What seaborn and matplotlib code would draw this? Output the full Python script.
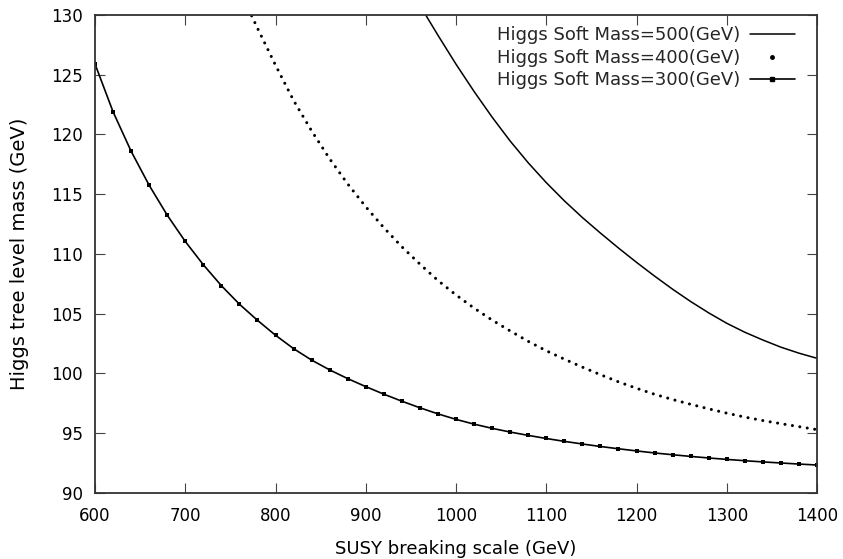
import numpy as np
import matplotlib
matplotlib.use("Agg")
import matplotlib.pyplot as plt
from matplotlib.lines import Line2D
import seaborn as sns

# SUSY breaking scale (GeV) and Higgs tree level mass (GeV)
x_300 = [600, 620, 640, 660, 680, 700, 720, 740, 760, 780, 800, 820, 840, 860, 880,
         900, 920, 940, 960, 980, 1000, 1020, 1040, 1060, 1080, 1100, 1120, 1140,
         1160, 1180, 1200, 1220, 1240, 1260, 1280, 1300, 1320, 1340, 1360, 1380, 1400]
m_300 = [125.9, 121.9, 118.6, 115.75, 113.25, 111.05, 109.1, 107.35, 105.8, 104.45,
         103.2, 102.08, 101.12, 100.3, 99.57, 98.9, 98.27, 97.68, 97.13, 96.62,
         96.16, 95.76, 95.41, 95.1, 94.82, 94.56, 94.32, 94.1, 93.89, 93.7,
         93.52, 93.35, 93.2, 93.06, 92.93, 92.81, 92.7, 92.6, 92.51, 92.42, 92.34]

x_400 = [770, 780, 800, 820, 840, 860, 880, 900, 920, 940, 960, 980, 1000, 1020,
         1040, 1060, 1080, 1100, 1120, 1140, 1160, 1180, 1200, 1220, 1240, 1260,
         1280, 1300, 1320, 1340, 1360, 1380, 1400]
m_400 = [130.5, 128.9, 125.8, 122.85, 120.3, 117.96, 115.86, 113.95, 112.2, 110.6,
         109.15, 107.78, 106.57, 105.47, 104.47, 103.56, 102.69, 101.9, 101.2,
         100.53, 99.9, 99.3, 98.76, 98.26, 97.82, 97.42, 97.04, 96.68, 96.35,
         96.06, 95.8, 95.55, 95.3]

x_500 = [960, 980, 1000, 1020, 1040, 1060, 1080, 1100, 1120, 1140, 1160, 1180,
         1200, 1220, 1240, 1260, 1280, 1300, 1320, 1340, 1360, 1380, 1400]
m_500 = [130.8, 128.3, 125.88, 123.6, 121.45, 119.45, 117.63, 115.97, 114.45,
         113.05, 111.75, 110.5, 109.3, 108.15, 107.05, 106.02, 105.07, 104.2,
         103.45, 102.8, 102.2, 101.7, 101.27]

labels = ["Higgs Soft Mass=500(GeV)", "Higgs Soft Mass=400(GeV)",
          "Higgs Soft Mass=300(GeV)"]
x_ticks = [600, 700, 800, 900, 1000, 1100, 1200, 1300, 1400]
y_ticks = [90, 95, 100, 105, 110, 115, 120, 125, 130]

sns.set_theme(style="ticks")
plt.rcParams["font.family"] = ["DejaVu Sans"]

fig = plt.figure(figsize=(8.43, 5.59), dpi=100)
ax = fig.add_axes([0.1127, 0.1181, 0.8565, 0.8551])

sns.lineplot(x=x_500, y=m_500, ax=ax, color="black", linewidth=1.1,
             sort=False, legend=False)
sns.lineplot(x=x_400, y=m_400, ax=ax, color="black", linewidth=2.2,
             linestyle=(0, (0.01, 2.45)), dash_capstyle="round",
             sort=False, legend=False)
sns.lineplot(x=x_300, y=m_300, ax=ax, color="black", linewidth=1.2,
             marker="s", markersize=2.6, markeredgewidth=0,
             sort=False, legend=False)

ax.set_xlim(600, 1400)
ax.set_ylim(90, 130)
ax.set_xticks(x_ticks)
ax.set_yticks(y_ticks)
ax.tick_params(direction="in", length=7, width=0.8, color="#444444",
               labelsize=12, top=True, right=True, labelcolor="black")
ax.tick_params(axis="x", pad=10)
ax.tick_params(axis="y", pad=9)
for s in ax.spines.values():
    s.set_linewidth(1.3)
    s.set_color("#333333")
    s.set_visible(True)

ax.set_xlabel("SUSY breaking scale (GeV)", fontsize=13, color="black")
ax.set_ylabel("Higgs tree level mass (GeV)", fontsize=14, color="black")
ax.xaxis.set_label_coords(0.5, -0.098)
ax.yaxis.set_label_coords(-0.092, 0.5)

handles = [
    Line2D([], [], color="black", linewidth=1.1),
    Line2D([], [], color="black", linestyle="none", marker="o", markersize=2.5),
    Line2D([], [], color="black", linewidth=1.2, marker="s", markersize=2.6),
]
ax.legend(handles, labels, loc="upper right", bbox_to_anchor=(0.9695, 0.976),
          frameon=False, fontsize=13, markerfirst=False, numpoints=1,
          handlelength=2.5, handletextpad=0.55, labelspacing=0.25,
          borderaxespad=0, borderpad=0)

fig.savefig("out.png", dpi=100)
